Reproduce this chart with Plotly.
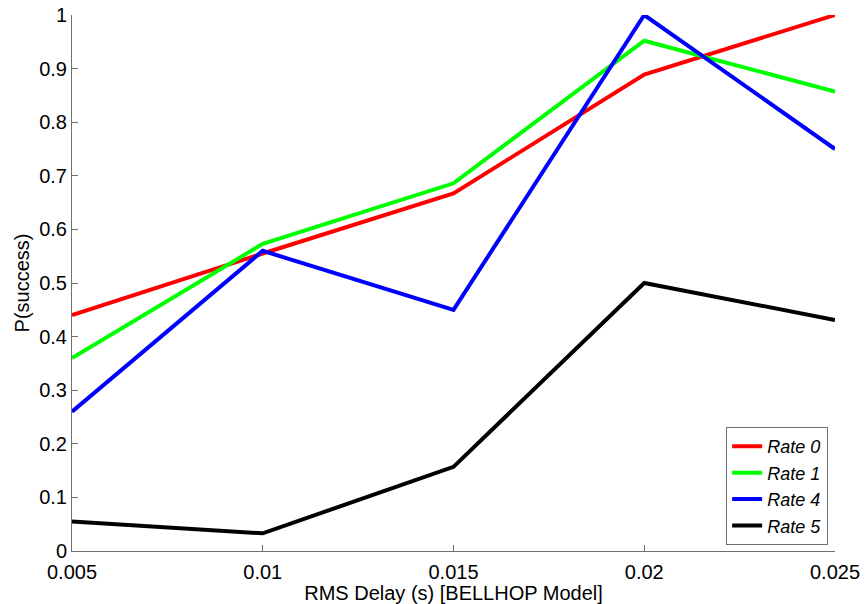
import plotly.graph_objects as go

# RMS delay spread values (seconds) from the BELLHOP channel model
rms_delay = [0.005, 0.01, 0.015, 0.02, 0.025]

# Probability of successful reception for each rate
rate0 = [0.44, 0.555, 0.667, 0.889, 1.0]
rate1 = [0.36, 0.573, 0.686, 0.952, 0.857]
rate4 = [0.26, 0.56, 0.45, 1.0, 0.75]
rate5 = [0.055, 0.033, 0.157, 0.5, 0.431]

series = [
    ("Rate 0", rate0, "#ff0000"),
    ("Rate 1", rate1, "#00ff00"),
    ("Rate 4", rate4, "#0000ff"),
    ("Rate 5", rate5, "#000000"),
]

x_ticks = [0.005, 0.01, 0.015, 0.02, 0.025]
x_tick_text = ["0.005", "0.01", "0.015", "0.02", "0.025"]
y_ticks = [0, 0.1, 0.2, 0.3, 0.4, 0.5, 0.6, 0.7, 0.8, 0.9, 1]
y_tick_text = ["0", "0.1", "0.2", "0.3", "0.4", "0.5", "0.6", "0.7", "0.8", "0.9", "1"]

FONT = "Liberation Sans, Arial, sans-serif"
FS = 20

fig = go.Figure()
for name, values, color in series:
    fig.add_trace(go.Scatter(
        x=rms_delay, y=values, name=name, mode="lines",
        line=dict(color=color, width=4),
    ))

axis_common = dict(
    showgrid=False, zeroline=False, showline=True,
    linecolor="#707070", linewidth=1,
    ticks="inside", ticklen=6, tickcolor="#707070",
    tickfont=dict(family=FONT, size=FS, color="black"),
    mirror=False, automargin=False,
)

fig.update_layout(
    width=868, height=604,
    margin=dict(l=72, r=33, t=15, b=53),
    paper_bgcolor="white", plot_bgcolor="white",
    font=dict(family=FONT, size=FS, color="black"),
    xaxis=dict(
        range=[0.005, 0.025], tickvals=x_ticks, ticktext=x_tick_text,
        ticklabelstandoff=3,
        title=dict(text="RMS Delay (s) [BELLHOP Model]", standoff=0,
                   font=dict(family=FONT, size=FS)),
        **axis_common,
    ),
    yaxis=dict(
        range=[0, 1], tickvals=y_ticks, ticktext=y_tick_text,
        title=dict(text="P(success)", standoff=4,
                   font=dict(family=FONT, size=FS)),
        **axis_common,
    ),
    legend=dict(
        x=0.991, y=0.011, xanchor="right", yanchor="bottom",
        bgcolor="white", bordercolor="#707070", borderwidth=1,
        font=dict(family=FONT, size=18, style="italic"),
        tracegroupgap=0, itemwidth=30,
    ),
    showlegend=True,
)

fig.write_html("out.html")
